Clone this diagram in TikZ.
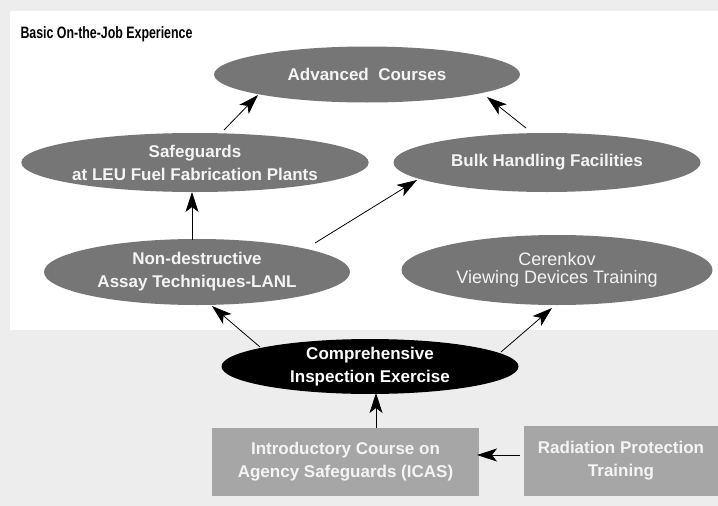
\documentclass[tikz,border=0pt]{standalone}
\usepackage{fontspec}
\setmainfont{Liberation Sans}
\newfontfamily\condbold[FakeStretch=0.75]{Liberation Sans}
\usetikzlibrary{shapes.geometric,arrows.meta,calc}
\definecolor{bggray}{HTML}{EDEDED}
\definecolor{ellgray}{HTML}{767676}
\definecolor{boxgray}{HTML}{A6A6A6}
\definecolor{lighttext}{HTML}{F4F4F4}
\tikzset{
  ell/.style={ellipse, fill=ellgray, inner sep=0pt, text=lighttext, align=center,
    font=\fontsize{17}{23}\selectfont\bfseries},
  blackell/.style={ellipse, fill=black, inner sep=0pt, text=white, align=center,
    font=\fontsize{17}{23}\selectfont\bfseries},
  gbox/.style={rectangle, fill=boxgray, inner sep=0pt, text=lighttext, align=center,
    font=\fontsize{17}{23}\selectfont\bfseries},
  arr/.style={line width=0.8pt, -{Stealth[length=20pt, width=13pt, inset=5pt]}},
}
\begin{document}
\begin{tikzpicture}[x=1pt,y=-1pt]
\useasboundingbox (0,0) rectangle (718,506);
\fill[bggray] (0,0) rectangle (718,506);
\fill[white] (10,11) rectangle (718,330);

\node[anchor=base west, font=\fontsize{16.5}{19}\condbold\bfseries] (title) at (17,38) {Basic On-the-Job Experience};

\node[ell, minimum width=306pt, minimum height=56pt] (adv) at (367,74.5) {Advanced\ \ Courses};
\node[ell, minimum width=306pt, minimum height=59pt] (leu) at (195,162.5) {Safeguards\\at LEU Fuel Fabrication Plants};
\node[ell, minimum width=307pt, minimum height=59pt] (bulk) at (547,162.5) {Bulk Handling Facilities};
\node[ell, minimum width=306pt, minimum height=66pt] (nda) at (197,272) {Non-destructive\\Assay Techniques-LANL};
\node[ell, minimum width=311pt, minimum height=70pt, font=\fontsize{18}{18}\selectfont] (cer) at (557,270) {Cerenkov\\Viewing Devices Training};
\node[blackell, minimum width=297pt, minimum height=53pt] (cie) at (370,366.5) {Comprehensive\\Inspection Exercise};
\node[gbox, minimum width=267pt, minimum height=68pt] (icas) at (345.5,462) {Introductory Course on\\Agency Safeguards (ICAS)};
\node[gbox, minimum width=194pt, minimum height=70pt] (rad) at (621,461) {Radiation Protection\\Training};

\draw[arr] ($(nda)+(-5,-32)$) -- ($(leu)+(-3,29.5)$);
\draw[arr] ($(nda)+(118,-29)$) -- ($(bulk)+(-130,17.5)$);
\draw[arr] ($(leu)+(29,-32.5)$) -- ($(adv)+(-109,20.5)$);
\draw[arr] ($(bulk)+(-21,-34.5)$) -- ($(adv)+(120,22.5)$);
\draw[arr] ($(cie)+(-110,-19.5)$) -- ($(nda)+(15,34)$);
\draw[arr] ($(cie)+(131,-14.5)$) -- ($(cer)+(-5,38)$);
\draw[arr] ($(icas)+(30.5,-34)$) -- ($(cie)+(6,26.5)$);
\draw[arr] ($(rad)+(-101,-6)$) -- ($(icas)+(131.5,-7)$);
\end{tikzpicture}
\end{document}
